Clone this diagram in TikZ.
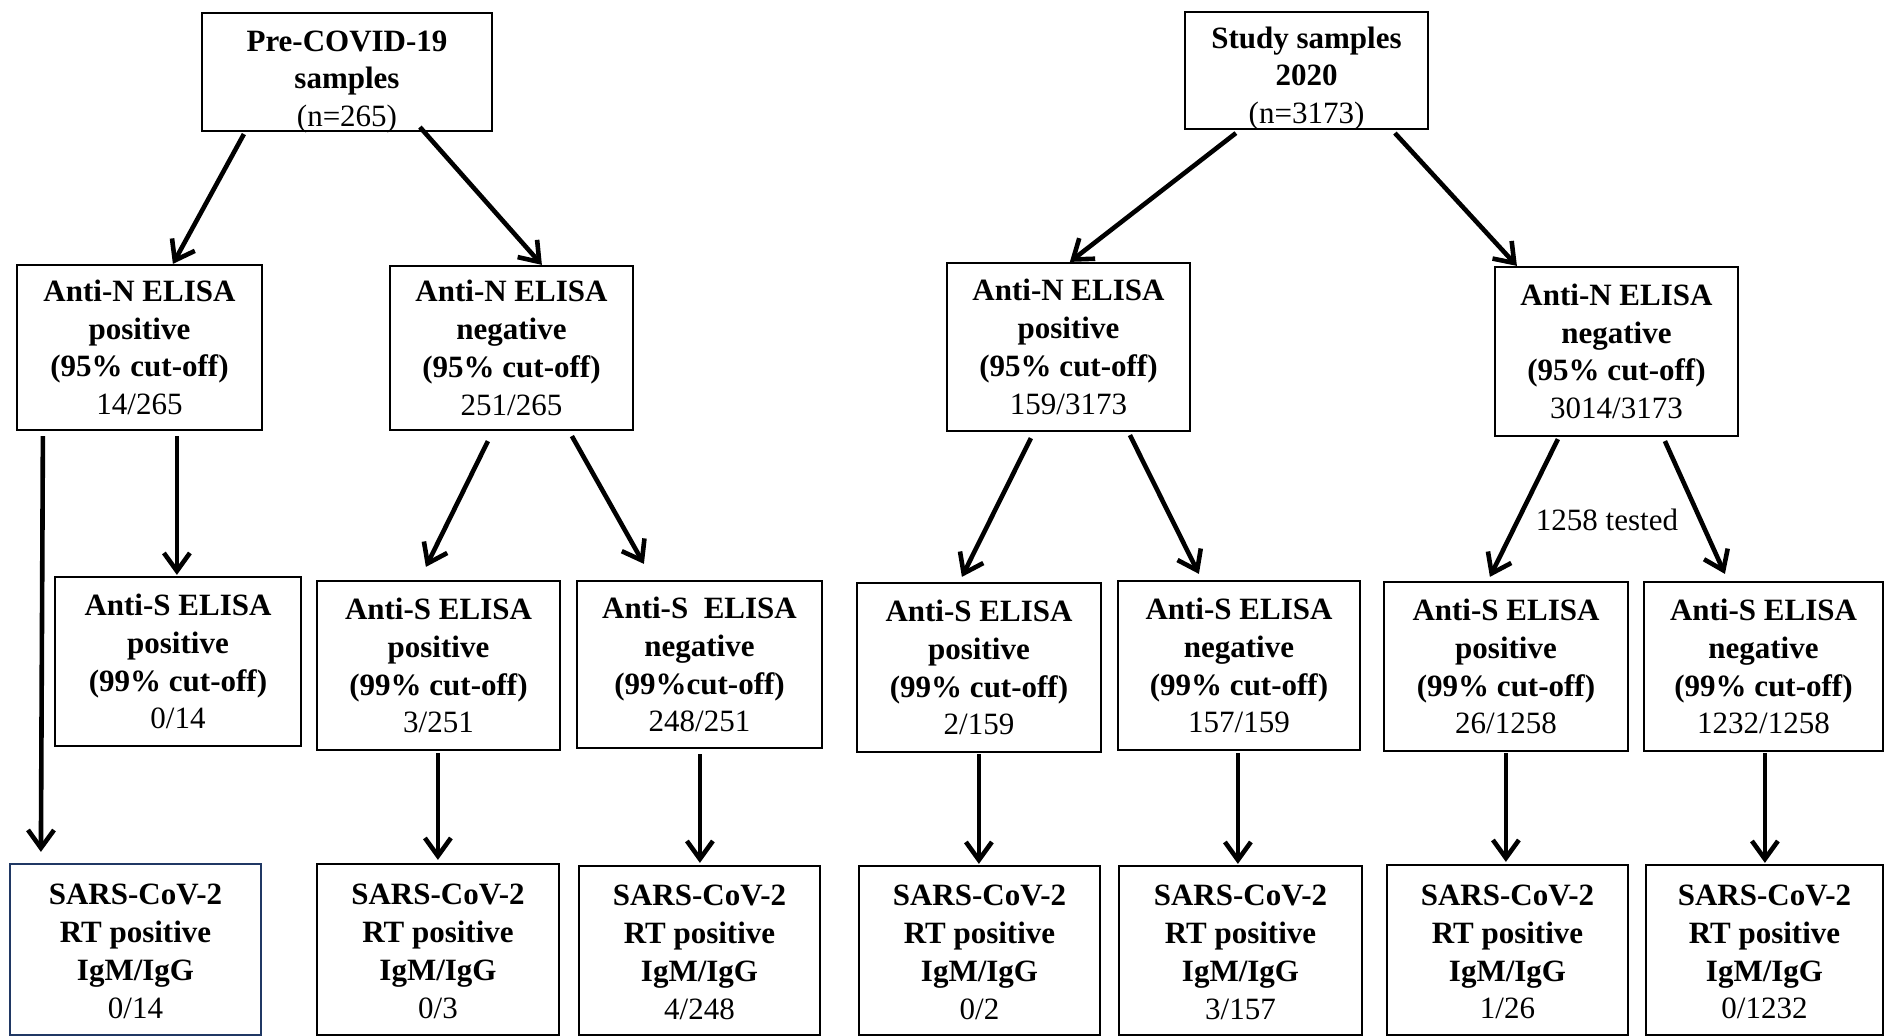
\documentclass[tikz,border=0pt]{standalone}
\usepackage{fontspec}
\setmainfont{Liberation Serif}
\usetikzlibrary{arrows.meta,calc,fit}
\definecolor{navy}{RGB}{32,56,100}
\tikzset{
  box/.style={draw=black, line width=1.1pt, inner sep=0pt, rectangle},
  txt/.style={font=\fontsize{15.5}{18.9}\selectfont, align=center, inner sep=0pt},
  arr/.style={line width=2.3pt, -{Straight Barb[length=9pt,width=13pt]}},
  lbl/.style={font=\fontsize{15.5}{18.9}\selectfont, inner sep=0pt}
}
\newcommand\tb[1]{\textbf{#1}}
\newcommand\fbx[8][]{%
  \node[box, #1, fit={(#3,#4) (#5,#6)}] (#2) {};
  \node[txt] (#2t) at ([yshift=#7]#2.center) {#8};}
\begin{document}
\begin{tikzpicture}[x=0.5pt,y=-0.5pt]
\useasboundingbox (0,0) rectangle (1885,1036);

% top row
\fbx{P0}{202}{13}{492}{131}{-5pt}{\tb{Pre-COVID-19}\\\tb{samples}\\(n=265)}
\fbx{S0}{1185}{12}{1428}{129}{-4pt}{\tb{Study samples}\\\tb{2020}\\(n=3173)}

% second row
\fbx{A}{17}{265}{262}{430}{0pt}{\tb{Anti-N ELISA}\\\tb{positive}\\\tb{(95\% cut-off)}\\14/265}
\fbx{B}{390}{266}{633}{430}{0pt}{\tb{Anti-N ELISA}\\\tb{negative}\\\tb{(95\% cut-off)}\\251/265}
\fbx{C}{947}{263}{1190}{431}{0pt}{\tb{Anti-N ELISA}\\\tb{positive}\\\tb{(95\% cut-off)}\\159/3173}
\fbx{D}{1495}{267}{1738}{436}{0pt}{\tb{Anti-N ELISA}\\\tb{negative}\\\tb{(95\% cut-off)}\\3014/3173}

% third row
\fbx{E}{55}{577}{301}{746}{0pt}{\tb{Anti-S ELISA}\\\tb{positive}\\\tb{(99\% cut-off)}\\0/14}
\fbx{F}{317}{581}{560}{750}{0pt}{\tb{Anti-S ELISA}\\\tb{positive}\\\tb{(99\% cut-off)}\\3/251}
\fbx{G}{577}{581}{822}{748}{0pt}{\tb{Anti-S\ \ ELISA}\\\tb{negative}\\\tb{(99\%cut-off)}\\248/251}
\fbx{H}{857}{583}{1101}{752}{0pt}{\tb{Anti-S ELISA}\\\tb{positive}\\\tb{(99\% cut-off)}\\2/159}
\fbx{I}{1118}{581}{1360}{750}{0pt}{\tb{Anti-S ELISA}\\\tb{negative}\\\tb{(99\% cut-off)}\\157/159}
\fbx{J}{1384}{582}{1628}{751}{0pt}{\tb{Anti-S ELISA}\\\tb{positive}\\\tb{(99\% cut-off)}\\26/1258}
\fbx{K}{1644}{582}{1883}{751}{0pt}{\tb{Anti-S ELISA}\\\tb{negative}\\\tb{(99\% cut-off)}\\1232/1258}

% bottom row
\fbx[draw=navy]{L}{10}{864}{261}{1035}{-1pt}{\tb{SARS-CoV-2}\\\tb{RT positive}\\\tb{IgM/IgG}\\0/14}
\fbx{M}{317}{864}{559}{1035}{-1pt}{\tb{SARS-CoV-2}\\\tb{RT positive}\\\tb{IgM/IgG}\\0/3}
\fbx{N}{579}{866}{820}{1035}{-1pt}{\tb{SARS-CoV-2}\\\tb{RT positive}\\\tb{IgM/IgG}\\4/248}
\fbx{O}{859}{866}{1100}{1035}{-1pt}{\tb{SARS-CoV-2}\\\tb{RT positive}\\\tb{IgM/IgG}\\0/2}
\fbx{P}{1119}{866}{1362}{1035}{-1pt}{\tb{SARS-CoV-2}\\\tb{RT positive}\\\tb{IgM/IgG}\\3/157}
\fbx{Q}{1387}{865}{1628}{1035}{-1pt}{\tb{SARS-CoV-2}\\\tb{RT positive}\\\tb{IgM/IgG}\\1/26}
\fbx{R}{1646}{865}{1883}{1035}{-1pt}{\tb{SARS-CoV-2}\\\tb{RT positive}\\\tb{IgM/IgG}\\0/1232}

% label
\node[lbl] (tested) at (1607,520) {1258 tested};

% arrows
\draw[arr] ($(P0.south west)+(43,2)$) -- ($(A.north west)+(157,0)$);
\draw[arr] ($(P0.south west)+(219,-5)$) -- ($(B.north west)+(153,0)$);
\draw[arr] ($(S0.south west)+(52,3)$) -- ($(C.north west)+(124,0)$);
\draw[arr] ($(S0.south west)+(211,3)$) -- ($(D.north west)+(23,0)$);

\draw[arr] ($(A.south west)+(27,5)$) -- ($(L.north west)+(32,-11)$);
\draw[arr] ($(A.south west)+(161,5)$) -- ($(E.north west)+(123,-1)$);
\draw[arr] ($(B.south west)+(99,10)$) -- ($(F.north west)+(110,-13)$);
\draw[arr] ($(B.south west)+(183,5)$) -- ($(G.north west)+(68,-16)$);
\draw[arr] ($(C.south west)+(85,6)$) -- ($(H.north west)+(106,-5)$);
\draw[arr] ($(C.south west)+(184,3)$) -- ($(I.north west)+(82,-6)$);
\draw[arr] ($(D.south west)+(64,2)$) -- ($(J.north west)+(107,-4)$);
\draw[arr] ($(D.south west)+(171,4)$) -- ($(K.north west)+(82,-7)$);

\draw[arr] ($(F.south west)+(122,2)$) -- ($(M.north west)+(122,-3)$);
\draw[arr] ($(G.south west)+(124,5)$) -- ($(N.north west)+(122,-2)$);
\draw[arr] ($(H.south west)+(123,1)$) -- ($(O.north west)+(121,-1)$);
\draw[arr] ($(I.south west)+(121,2)$) -- ($(P.north west)+(120,-1)$);
\draw[arr] ($(J.south west)+(123,1)$) -- ($(Q.north west)+(120,-2)$);
\draw[arr] ($(K.south west)+(122,1)$) -- ($(R.north west)+(120,-1)$);
\end{tikzpicture}
\end{document}
